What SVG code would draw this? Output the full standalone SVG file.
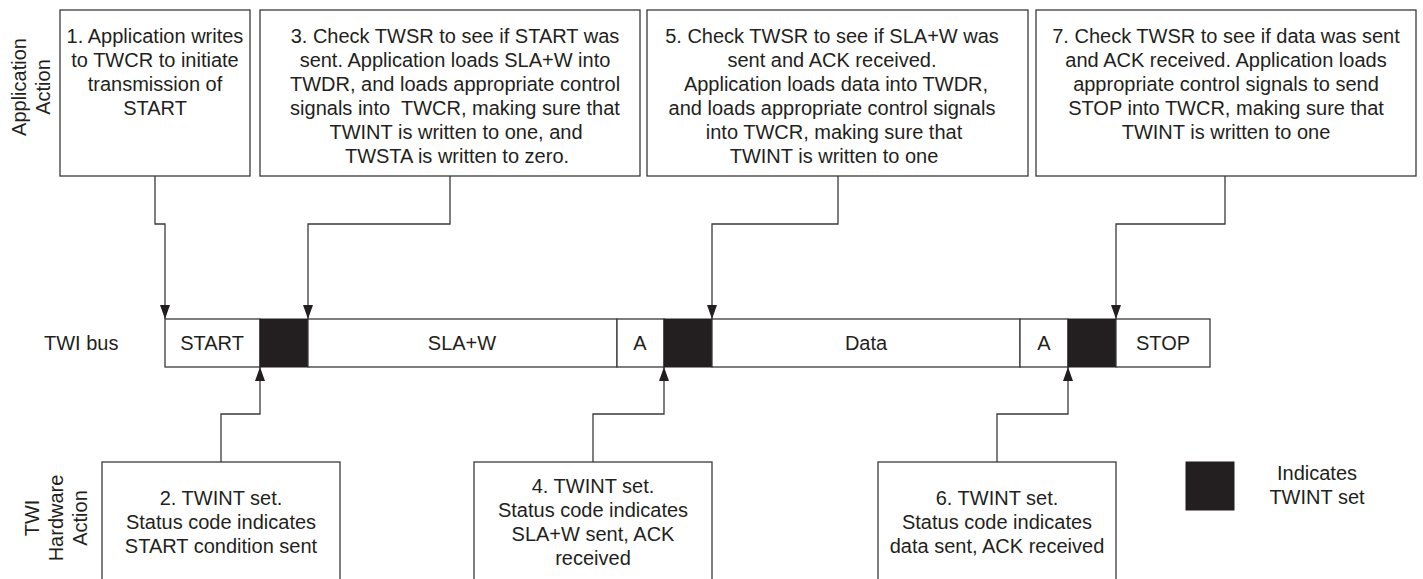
<svg xmlns="http://www.w3.org/2000/svg" width="1423" height="579" viewBox="0 0 1423 579">
<defs>
<style>
text{font-family:"Liberation Sans",Arial,sans-serif;font-size:20px;fill:#231f20}
.c{text-anchor:middle}
.box{fill:#fff;stroke:#3a3a3a;stroke-width:1.3}
.seg{fill:#fff;stroke:#3a3a3a;stroke-width:1.3}
.blk{fill:#231f20;stroke:#231f20;stroke-width:1}
.con{fill:none;stroke:#3a3a3a;stroke-width:1.3}
</style>
<marker id="ah" viewBox="0 0 14 10" refX="14" refY="5" markerWidth="14" markerHeight="10" orient="auto" markerUnits="userSpaceOnUse">
<path d="M0,0 L14,5 L0,10 Z" fill="#231f20"/>
</marker>
</defs>
<rect width="1423" height="579" fill="#fff"/>

<g id="lane-labels">
<text class="c" transform="translate(26,87) rotate(-90)">Application</text>
<text class="c" transform="translate(50,87) rotate(-90)">Action</text>
<text class="c" transform="translate(39,518) rotate(-90)">TWI</text>
<text class="c" transform="translate(63,518) rotate(-90)">Hardware</text>
<text class="c" transform="translate(87,518) rotate(-90)">Action</text>
<text x="44" y="350">TWI bus</text>
</g>

<g id="connectors">
<path class="con" d="M155,176 V224 H165 V319" marker-end="url(#ah)"/>
<path class="con" d="M450,176 V224 H308 V319" marker-end="url(#ah)"/>
<path class="con" d="M838,176 V224 H712 V319" marker-end="url(#ah)"/>
<path class="con" d="M1225,176 V224 H1116 V319" marker-end="url(#ah)"/>
<path class="con" d="M221,462 V414 H260 V367" marker-end="url(#ah)"/>
<path class="con" d="M593,462 V414 H664 V367" marker-end="url(#ah)"/>
<path class="con" d="M997,462 V414 H1068 V367" marker-end="url(#ah)"/>
</g>

<g id="bus">
<rect class="seg" x="165" y="319" width="95" height="48"/>
<rect class="blk" x="260" y="319" width="48" height="48"/>
<rect class="seg" x="308" y="319" width="309" height="48"/>
<rect class="seg" x="617" y="319" width="47" height="48"/>
<rect class="blk" x="664" y="319" width="48" height="48"/>
<rect class="seg" x="712" y="319" width="308" height="48"/>
<rect class="seg" x="1020" y="319" width="48" height="48"/>
<rect class="blk" x="1068" y="319" width="48" height="48"/>
<rect class="seg" x="1116" y="319" width="94" height="48"/>
<text class="c" x="212" y="350">START</text>
<text class="c" x="462" y="350">SLA+W</text>
<text class="c" x="640" y="350">A</text>
<text class="c" x="866" y="350">Data</text>
<text class="c" x="1044" y="350">A</text>
<text class="c" x="1163" y="350">STOP</text>
</g>

<g id="step1">
<rect class="box" x="60" y="10" width="190" height="166"/>
<text class="c" x="155" y="42.5">1. Application writes</text>
<text class="c" x="155" y="66.5">to TWCR to initiate</text>
<text class="c" x="155" y="90.5">transmission of</text>
<text class="c" x="155" y="114.5">START</text>
</g>

<g id="step3">
<rect class="box" x="260" y="10" width="380" height="166"/>
<text class="c" x="455" y="42.5">3. Check TWSR to see if START was</text>
<text class="c" x="455" y="66.5">sent. Application loads SLA+W into</text>
<text class="c" x="455" y="90.5">TWDR, and loads appropriate control</text>
<text class="c" x="455" y="114.5" style="white-space:pre">signals into  TWCR, making sure that</text>
<text class="c" x="456" y="138.5">TWINT is written to one, and</text>
<text class="c" x="457" y="162.5">TWSTA is written to zero.</text>
</g>

<g id="step5">
<rect class="box" x="647" y="10" width="381" height="166"/>
<text class="c" x="832" y="42.5">5. Check TWSR to see if SLA+W was</text>
<text class="c" x="832" y="66.5">sent and ACK received.</text>
<text class="c" x="836" y="90.5">Application loads data into TWDR,</text>
<text class="c" x="832" y="114.5">and loads appropriate control signals</text>
<text class="c" x="834" y="138.5">into TWCR, making sure that</text>
<text class="c" x="834" y="162.5">TWINT is written to one</text>
</g>

<g id="step7">
<rect class="box" x="1036" y="10" width="380" height="166"/>
<text class="c" x="1226" y="42.5">7. Check TWSR to see if data was sent</text>
<text class="c" x="1226" y="66.5">and ACK received. Application loads</text>
<text class="c" x="1226" y="90.5">appropriate control signals to send</text>
<text class="c" x="1226" y="114.5">STOP into TWCR, making sure that</text>
<text class="c" x="1226" y="138.5">TWINT is written to one</text>
</g>

<g id="step2">
<rect class="box" x="102" y="462" width="238" height="140"/>
<text class="c" x="221" y="505">2. TWINT set.</text>
<text class="c" x="221" y="529">Status code indicates</text>
<text class="c" x="221" y="553">START condition sent</text>
</g>

<g id="step4">
<rect class="box" x="474" y="462" width="238" height="140"/>
<text class="c" x="593" y="493">4. TWINT set.</text>
<text class="c" x="593" y="517">Status code indicates</text>
<text class="c" x="593" y="541">SLA+W sent, ACK</text>
<text class="c" x="593" y="565">received</text>
</g>

<g id="step6">
<rect class="box" x="878" y="462" width="238" height="140"/>
<text class="c" x="997" y="505">6. TWINT set.</text>
<text class="c" x="997" y="529">Status code indicates</text>
<text class="c" x="997" y="553">data sent, ACK received</text>
</g>

<g id="legend">
<rect class="blk" x="1186" y="462" width="48" height="48"/>
<text class="c" x="1317" y="480">Indicates</text>
<text class="c" x="1317" y="504">TWINT set</text>
</g>
</svg>
